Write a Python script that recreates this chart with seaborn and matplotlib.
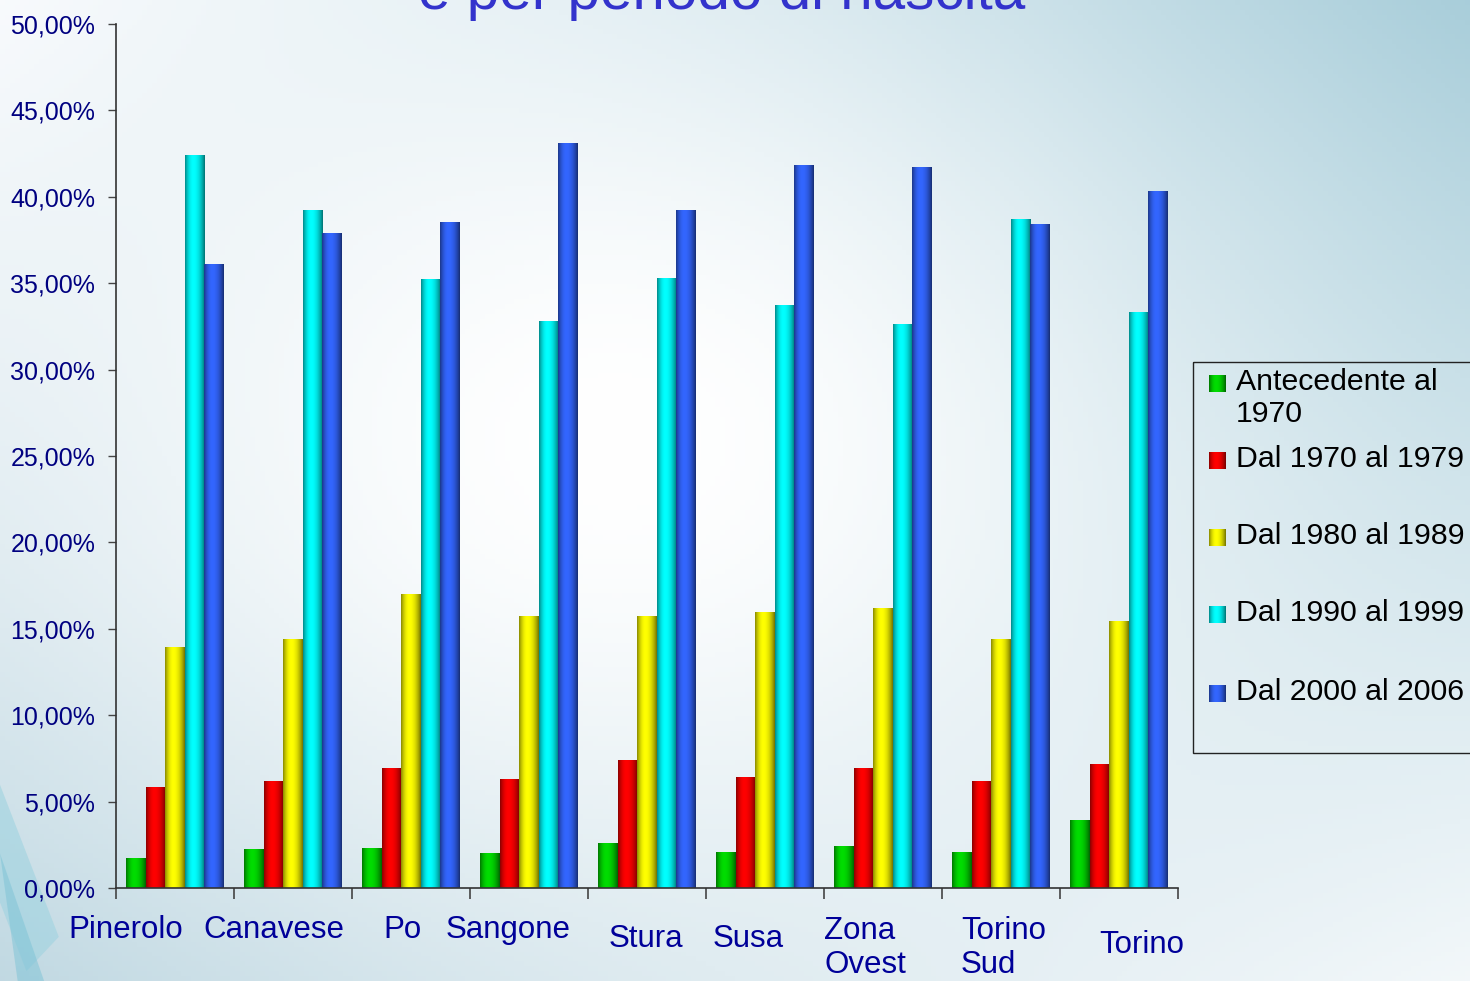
import numpy as np
import pandas as pd
import matplotlib
matplotlib.use("Agg")
import matplotlib.pyplot as plt
import seaborn as sns
from matplotlib.patches import Rectangle, Polygon

# data (percent values)
zones = ["Pinerolo", "Canavese", "Po", "Sangone", "Stura", "Susa",
         "Zona\nOvest", "Torino\nSud", "Torino"]
periods = ["Antecedente al\n1970", "Dal 1970 al 1979", "Dal 1980 al 1989",
           "Dal 1990 al 1999", "Dal 2000 al 2006"]
before_1970 = [1.68, 2.20, 2.31, 1.97, 2.55, 2.08, 2.43, 2.08, 3.88]
from_1970 = [5.79, 6.19, 6.89, 6.30, 7.35, 6.42, 6.89, 6.19, 7.12]
from_1980 = [13.90, 14.40, 17.00, 15.70, 15.70, 15.97, 16.20, 14.40, 15.45]
from_1990 = [42.40, 39.20, 35.20, 32.80, 35.30, 33.70, 32.60, 38.70, 33.30]
from_2000 = [36.10, 37.90, 38.50, 43.10, 39.20, 41.80, 41.70, 38.40, 40.30]
colors = ["#00dd00", "#ff0000", "#ffff00", "#00ffff", "#3366ff"]
title = "e per periodo di nascita"

series = [before_1970, from_1970, from_1980, from_1990, from_2000]
rows = []
for p, vals in zip(periods, series):
    for z, v in zip(zones, vals):
        rows.append({"zona": z, "periodo": p, "valore": v})
df = pd.DataFrame(rows)

sns.set_style("white")
fig = plt.figure(figsize=(14.7, 9.81), dpi=100)

# background gradient
bg = fig.add_axes([0, 0, 1, 1], zorder=-5)
H, W = 200, 300
yy, xx = np.mgrid[0:1:H * 1j, 0:1:W * 1j]
tl = np.array([0.97, 0.98, 0.99])
tr = np.array([0.65, 0.80, 0.85])
bl = np.array([0.74, 0.84, 0.88])
br = np.array([0.95, 0.97, 0.98])
img = ((1 - xx)[..., None] * (1 - yy)[..., None] * tl + xx[..., None] * (1 - yy)[..., None] * tr
       + (1 - xx)[..., None] * yy[..., None] * bl + xx[..., None] * yy[..., None] * br)
bump = np.exp(-(((xx - 0.42) / 0.38) ** 2 + ((yy - 0.45) / 0.45) ** 2))[..., None]
img = img * (1 - bump) + bump * 1.0
bg.imshow(img, extent=[0, 1, 0, 1], aspect="auto", origin="upper")
bg.add_patch(Polygon([[0, 0.20], [0.040, 0.045], [0.018, 0.01], [0, 0.08]],
                     closed=True, facecolor="#9fd3e0", alpha=0.6, edgecolor="none"))
bg.add_patch(Polygon([[0, 0.13], [0.030, 0.0], [0.012, 0.0]],
                     closed=True, facecolor="#7cc3d6", alpha=0.5, edgecolor="none"))
bg.set_xlim(0, 1)
bg.set_ylim(0, 1)
bg.axis("off")

ax = fig.add_axes([116 / 1470, 93 / 981, 1062 / 1470, 864 / 981], zorder=1)
ax.set_facecolor("none")
sns.barplot(data=df, x="zona", y="valore", hue="periodo", order=zones,
            hue_order=periods, palette=colors, width=0.83, gap=0,
            saturation=1, legend=False, ax=ax, edgecolor="none")

# cylinder-like shading on each bar
t = np.linspace(0, 1, 64)
shade = np.clip(1 - 0.55 * ((t - 0.42) / 0.58) ** 2 * np.where(t < 0.42, 1.6, 1.0), 0.45, 1)
for bar in list(ax.patches):
    x0, y0 = bar.get_x(), bar.get_y()
    w, h = bar.get_width(), bar.get_height()
    base = np.array(bar.get_facecolor()[:3])
    grad = (shade[:, None] * base[None, :])[None, :, :]
    ax.imshow(grad, extent=[x0, x0 + w, y0, y0 + h], aspect="auto",
              origin="lower", zorder=2, interpolation="bilinear")

ax.set_xlim(-0.5, 8.5)
ax.set_ylim(0, 50)
ax.set_yticks(np.arange(0, 51, 5))
ax.set_yticklabels([f"{v:.2f}".replace(".", ",") + "%" for v in np.arange(0, 51, 5)],
                   fontsize=18, color="#000080", family="Liberation Sans")
ax.set_xticks(np.arange(-0.5, 9.0, 1.0))
ax.set_xticklabels([])
ax.tick_params(axis="y", direction="out", length=6, width=1, color="#444444", pad=9, left=True)
ax.tick_params(axis="x", direction="out", length=8, width=1.2, color="#444444", bottom=True)
ax.set_xlabel("")
ax.set_ylabel("")
for s in ["top", "right"]:
    ax.spines[s].set_visible(False)
for s in ["left", "bottom"]:
    ax.spines[s].set_color("#333333")
    ax.spines[s].set_linewidth(1.2)

# category labels, placed like the original slide
label_dx = [-0.42, -0.16, -0.07, -0.18, -0.01, -0.14, -0.50, -0.34, 0.19]
label_ha = ["center"] * 6 + ["left", "left", "center"]
label_dy = [-42, -42, -42, -42, -51, -51, -60, -60, -57]
for i, z in enumerate(zones):
    ax.text(i + label_dx[i], label_dy[i] / 864, z, transform=ax.get_xaxis_transform(),
            ha=label_ha[i], va="center", fontsize=22.5, color="#000099",
            family="Liberation Sans", linespacing=1.15, clip_on=False)

# title (cut at the top as in the slide)
fig.text(722 / 1470, 1 - 9 / 981, title, ha="center", va="baseline",
         fontsize=42, color="#3333cc", family="Liberation Sans")

# legend drawn by hand in pixel coordinates
ov = fig.add_axes([0, 0, 1, 1], zorder=3)
ov.set_xlim(0, 1470)
ov.set_ylim(981, 0)
ov.axis("off")
ov.add_patch(Rectangle((1193, 362), 300, 391, facecolor="none",
                       edgecolor="#222222", linewidth=1.0))
entry_y = [384, 461, 538, 615, 694]
for k, p in enumerate(periods):
    yc = entry_y[k]
    base = np.array(matplotlib.colors.to_rgb(colors[k]))
    grad = (shade[:, None] * base[None, :])[None, :, :]
    ov.imshow(grad, extent=[1209, 1226, yc + 8.5, yc - 8.5], aspect="auto",
              origin="upper", zorder=4)
    ov.text(1236, yc - 16, p, ha="left", va="top", fontsize=21.8, color="black",
            family="Liberation Sans", linespacing=1.18)
ov.set_xlim(0, 1470)
ov.set_ylim(981, 0)

fig.savefig("out.png", dpi=100)
